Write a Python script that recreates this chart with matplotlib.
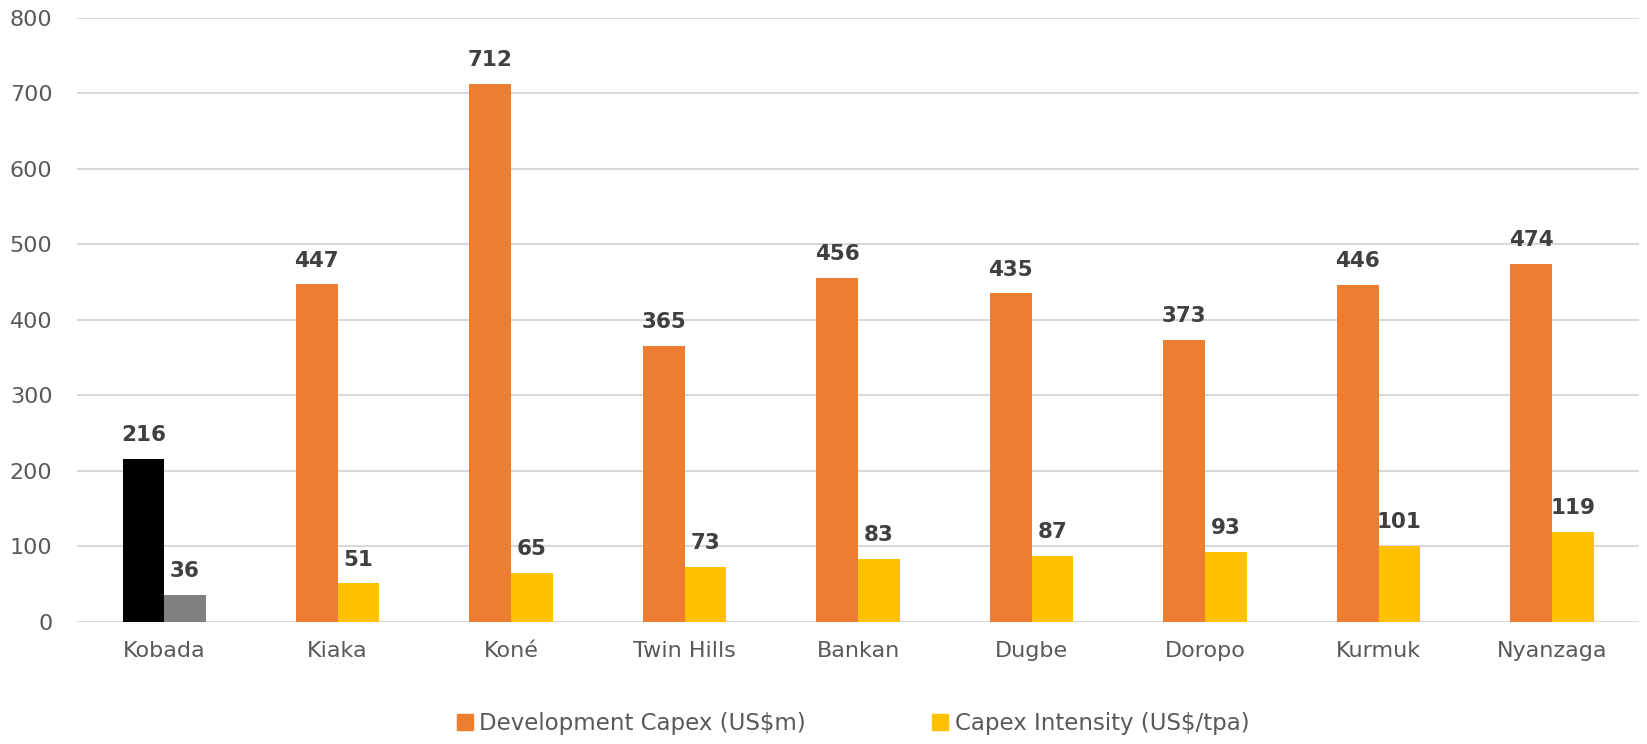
import numpy as np
import matplotlib
matplotlib.use("Agg")
import matplotlib.pyplot as plt
from matplotlib.patches import Patch

projects = ["Kobada", "Kiaka", "Koné", "Twin Hills", "Bankan", "Dugbe", "Doropo", "Kurmuk", "Nyanzaga"]
dev_capex = [216, 447, 712, 365, 456, 435, 373, 446, 474]
capex_intensity = [36, 51, 65, 73, 83, 87, 93, 101, 119]

plt.rcParams['font.family'] = ['DejaVu Sans']

fig = plt.figure(figsize=(16.47, 7.44), dpi=100)
ax = fig.add_axes([0.047, 0.164, 0.948, 0.812])

x = np.arange(len(projects))
w = 0.24
c1 = ['black'] + ['#ED7D31'] * (len(projects) - 1)
c2 = ['#808080'] + ['#FFC000'] * (len(projects) - 1)
b1 = ax.bar(x - w / 2, dev_capex, w, color=c1, zorder=3)
b2 = ax.bar(x + w / 2, capex_intensity, w, color=c2, zorder=3)

for bars in (b1, b2):
    for r in bars:
        ax.annotate(f"{int(r.get_height())}", (r.get_x() + r.get_width() / 2, r.get_height()),
                    xytext=(0, 10), textcoords="offset points", ha='center', va='bottom',
                    fontsize=15.5, fontweight='bold', color='#404040')

ax.set_xlim(-0.5, len(projects) - 0.5)
ax.set_ylim(0, 800)
ax.set_yticks(range(0, 801, 100))
ax.set_xticks(x)
ax.set_xticklabels(projects)
ax.tick_params(axis='both', length=0, labelsize=16, labelcolor='#595959')
ax.tick_params(axis='x', pad=14)
ax.tick_params(axis='y', pad=18)
ax.grid(axis='y', color='#D9D9D9', linewidth=1.5, zorder=0)
for s in ax.spines.values():
    s.set_visible(False)

handles = [Patch(color='#ED7D31', label='Development Capex (US$m)'),
           Patch(color='#FFC000', label='Capex Intensity (US$/tpa)')]
fig.legend(handles=handles, loc='center', bbox_to_anchor=(0.518, 0.028), ncol=2, frameon=False,
           fontsize=16.5, labelcolor='#595959', handlelength=0.7, handleheight=0.7,
           handletextpad=0.3, columnspacing=5.5)

fig.savefig("out.png", dpi=100)
